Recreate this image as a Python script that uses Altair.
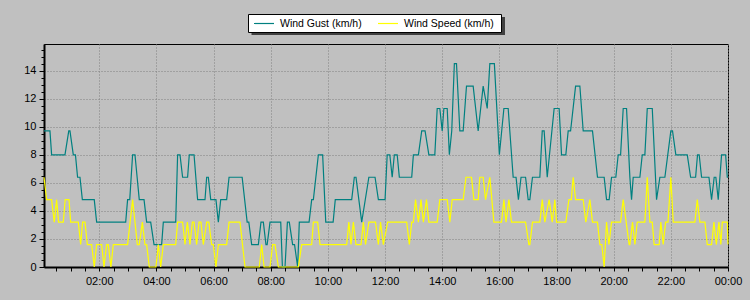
import altair as alt
import pandas as pd

# minutes after midnight / km/h
gust_min = [4, 16.5, 20, 48, 56, 58.5, 65.5, 70, 74.5, 79.5, 84.5, 109.5, 114.5, 175.5, 179.5, 184, 190, 195,
            204, 214, 219.5, 228, 235, 251, 254.5, 280.5, 284.5, 289.5, 295, 305.5, 309, 319, 326.5, 342,
            345.5, 349, 354, 365, 370, 375, 387.5, 392.5, 420, 430.5, 434, 440, 454, 459.5, 464.5, 470,
            472.5, 478.5, 501, 504.5, 510, 515, 519, 526, 530, 536.5, 540, 560.5, 566, 569.5, 580, 589,
            595.5, 611, 615.5, 650, 655.5, 659, 671, 686, 699, 706, 720, 724.5, 730, 735, 739.5, 745.5,
            750, 776, 779.5, 790, 797, 804, 812, 824.5, 829.5, 835, 840, 843.5, 850.5, 855, 860, 865.5,
            870, 877, 884, 891, 905, 915.5, 926, 934.5, 940, 949.5, 960, 969.5, 978.5, 989, 995, 1000,
            1005.5, 1015, 1020.5, 1024, 1029.5, 1045, 1050, 1054, 1060.5, 1075, 1085.5, 1090.5, 1099.5,
            1104.5, 1109.5, 1120, 1129, 1136, 1155.5, 1166, 1180, 1185, 1190.5, 1195.5, 1204.5, 1209.5,
            1214.5, 1220, 1227, 1234, 1237.5, 1241, 1255, 1260, 1265.5, 1270.5, 1281, 1290, 1297, 1307.5,
            1320, 1323.5, 1330.5, 1354.5, 1361.5, 1372, 1376, 1379.5, 1384.5, 1400, 1405.5, 1411, 1414.5,
            1419.5, 1426.5, 1435, 1438.5, 1440]
gust_kmh = [9.7, 9.7, 8.0, 8.0, 9.7, 9.7, 8.0, 8.0, 6.4, 6.4, 4.8, 4.8, 3.2, 3.2, 4.8, 4.8, 8.0, 8.0,
            4.8, 4.8, 3.2, 3.2, 1.6, 1.6, 3.2, 3.2, 8.0, 8.0, 6.4, 6.4, 8.0, 8.0, 4.8, 4.8,
            6.4, 6.4, 4.8, 4.8, 3.2, 4.8, 4.8, 6.4, 6.4, 3.2, 3.2, 1.6, 1.6, 3.2, 3.2, 1.6,
            1.6, 3.2, 3.2, 0, 0, 3.2, 3.2, 1.6, 1.6, 0, 3.2, 3.2, 4.8, 4.8, 8.0, 8.0,
            3.2, 3.2, 4.8, 4.8, 6.4, 6.4, 3.2, 6.4, 6.4, 4.8, 4.8, 8.0, 8.0, 6.4, 8.0, 8.0,
            6.4, 6.4, 8.0, 8.0, 9.7, 9.7, 8.0, 8.0, 11.3, 11.3, 9.7, 11.3, 11.3, 8.0, 9.7, 14.5,
            14.5, 9.7, 9.7, 12.9, 12.9, 9.7, 12.9, 11.3, 14.5, 14.5, 8.0, 11.3, 11.3, 6.4, 6.4, 4.8,
            6.4, 6.4, 4.8, 4.8, 6.4, 6.4, 9.7, 9.7, 6.4, 11.3, 11.3, 8.0, 8.0,
            9.7, 9.7, 12.9, 12.9, 9.7, 9.7, 6.4, 6.4, 4.8, 4.8, 6.4, 6.4, 8.0,
            8.0, 11.3, 11.3, 6.4, 4.8, 6.4, 6.4, 8.0, 8.0, 11.3, 11.3, 4.8, 6.4, 6.4,
            9.7, 9.7, 8.0, 8.0, 6.4, 6.4, 8.0, 8.0, 6.4, 6.4, 4.8, 6.4, 6.4,
            4.8, 8.0, 8.0, 6.4, 6.4]

speed_min = [4, 9.5, 20, 25.5, 30.5, 34.5, 44.5, 48.5, 56.5, 60, 76, 81, 85, 90, 95, 104, 109.5, 114.5,
             125, 130, 135.5, 139, 144.5, 149.5, 179.5, 190, 195, 200, 204, 210.5, 216, 219.5, 225, 239,
             244, 249, 254.5, 280.5, 284.5, 295, 300, 305, 310.5, 315.5, 319, 324.5, 329.5, 333.5, 338.5,
             345.5, 350, 356, 359.5, 365, 370, 387.5, 392.5, 415.5, 426, 456, 461, 466, 478.5, 484, 489,
             496, 538, 545, 566, 569.5, 578.5, 583.5, 639.5, 644, 648.5, 653.5, 659, 669.5, 674.5, 679,
             686, 700, 706, 710.5, 716.5, 725.5, 765.5, 771, 776, 779.5, 784, 790, 795.5, 800.5, 807, 812,
             829.5, 835, 850.5, 856, 861, 884, 890, 901.5, 906.5, 915.5, 919, 926, 931, 940, 948.5, 964.5,
             969.5, 974, 980, 985.5, 1015, 1022, 1024, 1029.5, 1045, 1050, 1055.5, 1064.5, 1071, 1076.5,
             1080, 1099.5, 1106, 1111, 1115, 1120, 1136, 1141.5, 1150, 1155.5, 1166, 1171, 1175, 1180,
             1185, 1190, 1195.5, 1214.5, 1220, 1232.5, 1234, 1239.5, 1244.5, 1249.5, 1265.5, 1270.5, 1276,
             1281, 1285, 1295.5, 1299, 1304, 1309, 1314, 1320, 1325, 1370.5, 1375.5, 1381, 1391.5, 1396.5,
             1405.5, 1410.5, 1415.5, 1421, 1425, 1428, 1438.5, 1440]
speed_kmh = [6.4, 4.8, 4.8, 3.2, 4.8, 3.2, 3.2, 4.8, 4.8, 3.2, 3.2, 1.6, 3.2, 3.2, 1.6, 1.6, 0, 1.6,
             1.6, 0, 1.6, 1.6, 0, 1.6, 1.6, 4.8, 3.2, 1.6, 1.6, 3.2, 1.6, 1.6, 0, 0,
             1.6, 0, 1.6, 1.6, 3.2, 3.2, 1.6, 3.2, 1.6, 3.2, 3.2, 1.6, 3.2, 3.2, 1.6,
             3.2, 3.2, 1.6, 1.6, 0, 1.6, 1.6, 3.2, 3.2, 0, 0, 1.6, 0, 0, 1.6, 1.6,
             0, 0, 1.6, 1.6, 3.2, 3.2, 1.6, 1.6, 3.2, 1.6, 3.2, 1.6, 1.6, 3.2, 1.6,
             3.2, 3.2, 1.6, 3.2, 1.6, 3.2, 3.2, 1.6, 3.2, 3.2, 4.8, 3.2, 4.8, 3.2, 4.8, 3.2,
             3.2, 4.8, 4.8, 3.2, 4.8, 4.8, 6.4, 6.4, 4.8, 4.8, 6.4, 6.4, 4.8, 6.4, 3.2, 3.2,
             4.8, 3.2, 4.8, 3.2, 3.2, 1.6, 1.6, 3.2, 3.2, 4.8, 3.2, 4.8, 3.2, 4.8,
             3.2, 3.2, 4.8, 4.8, 6.4, 4.8, 4.8, 3.2, 4.8, 3.2, 3.2, 1.6, 1.6, 0,
             3.2, 1.6, 3.2, 3.2, 4.8, 1.6, 1.6, 3.2, 1.6, 3.2, 3.2, 6.4, 3.2,
             3.2, 1.6, 1.6, 3.2, 1.6, 3.2, 3.2, 6.4, 3.2, 3.2, 4.8, 3.2, 3.2, 1.6,
             1.6, 3.2, 1.6, 3.2, 1.6, 3.2, 3.2, 1.6]

series_names = ["Wind Gust (km/h)", "Wind Speed (km/h)"]
series_colors = ["#008080", "#ffff00"]
x_ticks = list(range(30, 1441, 30))
y_ticks = [i * 0.5 for i in range(0, 32)]

df = pd.concat([
    pd.DataFrame({"t": gust_min, "v": gust_kmh, "s": series_names[0]}),
    pd.DataFrame({"t": speed_min, "v": speed_kmh, "s": series_names[1]}),
])

FONT = "Liberation Sans"

x_axis = alt.Axis(
    values=x_ticks,
    labelExpr="datum.value % 120 === 0 ? ((floor(datum.value/60) % 24 < 10 ? '0' : '') + (floor(datum.value/60) % 24) + ':00') : ''",
    title=None, labelOverlap=False, labelFlush=False,
    tickSize=4, tickColor="black", domainColor="black", domainWidth=2,
    labelColor="black", labelFont=FONT, labelFontSize=11, labelPadding=4,
    grid=True, gridColor="#808080", gridDash=[1, 2],
    gridOpacity={"condition": {"test": "datum.value % 120 === 0", "value": 1}, "value": 0},
)
y_axis = alt.Axis(
    values=y_ticks,
    labelExpr="datum.value % 2 === 0 ? datum.value : ''",
    title=None, labelOverlap=False, labelFlush=False,
    tickSize={"condition": {"test": "datum.value % 2 === 0", "value": 5}, "value": 3},
    tickColor="black", domainColor="black", domainWidth=2,
    labelColor="black", labelFont=FONT, labelFontSize=11, labelPadding=3,
    grid=True, gridColor="#808080", gridDash=[1, 2],
    gridOpacity={"condition": {"test": "datum.value % 2 === 0", "value": 1}, "value": 0},
)

lines = alt.Chart(df).mark_line(strokeWidth=1.2, interpolate="linear").encode(
    x=alt.X("t:Q", scale=alt.Scale(domain=[4, 1440], nice=False, zero=False), axis=x_axis),
    y=alt.Y("v:Q", scale=alt.Scale(domain=[0, 15.9], nice=False), axis=y_axis),
    color=alt.Color("s:N", scale=alt.Scale(domain=series_names, range=series_colors), legend=None),
)

# legend box drawn by hand (box with drop shadow, as in the original)
one = pd.DataFrame({"a": [0]})
shadow = alt.Chart(one).mark_rect(color="#404040").encode(
    x=alt.value(207.5), x2=alt.value(461), y=alt.value(-27), y2=alt.value(-9)
)
box = alt.Chart(one).mark_rect(fill="white", stroke="black", strokeWidth=1).encode(
    x=alt.value(204.5), x2=alt.value(457.5), y=alt.value(-29.5), y2=alt.value(-11.5)
)
legend_layers = []
for name, color, x0 in zip(series_names, series_colors, [210, 334]):
    item = pd.DataFrame({"s": [name]})
    legend_layers.append(
        alt.Chart(item).mark_rule(color=color, strokeWidth=1.2).encode(
            x=alt.value(x0), x2=alt.value(x0 + 20), y=alt.value(-20.5)
        )
    )
    legend_layers.append(
        alt.Chart(item).mark_text(align="left", baseline="middle", font=FONT, fontSize=10.5, color="black").encode(
            text="s:N", x=alt.value(x0 + 26), y=alt.value(-20.5)
        )
    )

chart = alt.layer(lines, shadow, box, *legend_layers).properties(
    width=684, height=223,
    autosize=alt.AutoSizeParams(type="none"),
    padding={"left": 44, "top": 44, "right": 22, "bottom": 33},
    background="#c0c0c0",
).configure_view(stroke="black", strokeWidth=1, fill="#c0c0c0")

chart.save("out.html", embed_options={"renderer": "svg", "actions": False})
